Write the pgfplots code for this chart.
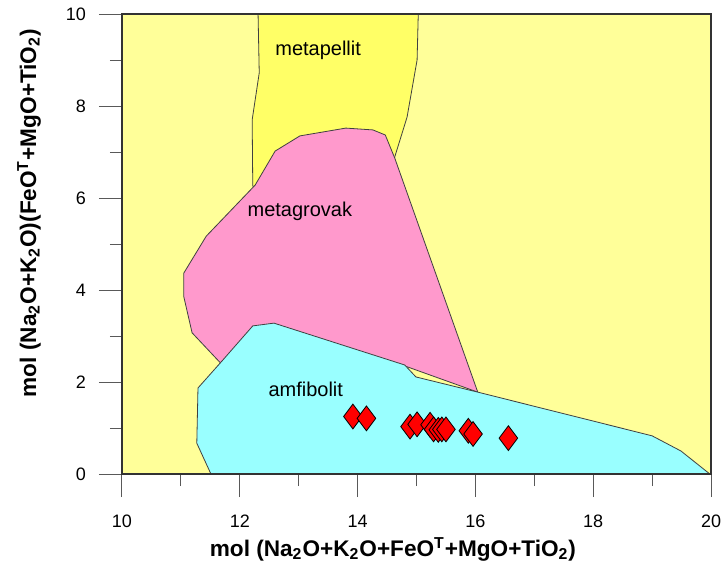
\documentclass[border=0pt]{standalone}
\usepackage{pgfplots}
\pgfplotsset{compat=1.18}
\usepackage{fontspec}
\setmainfont{Liberation Sans}
\definecolor{bgy}{HTML}{FFFF99}
\definecolor{metap}{HTML}{FFFF66}
\definecolor{metag}{HTML}{FF99CC}
\definecolor{amf}{HTML}{99FFFF}
\begin{document}
\begin{tikzpicture}
\begin{axis}[
  at={(0,0)}, anchor=south west,
  scale only axis, width=294.5pt, height=230pt,
  xmin=10, xmax=20, ymin=0, ymax=10,
  xtick={10,12,...,20}, ytick={0,2,...,10},
  minor xtick={11,13,...,19}, minor ytick={1,3,...,9},
  tick align=outside, xtick pos=bottom, ytick pos=left,
  major tick length=11.5pt, minor tick length=6pt,
  tick style={black!65, line width=0.5pt},
  axis background/.style={fill=bgy},
  axis line style={black!80, line width=0.6pt},
  axis on top,
  /pgf/number format/assume math mode=true,
  ticklabel style={font=\fontsize{9}{10}\selectfont},
  xticklabel style={yshift=-5.5pt},
  yticklabel style={xshift=-3pt},
  label style={font=\bfseries\fontsize{11.3}{12}\selectfont},
  xlabel={mol (Na\textsubscript{2}O+K\textsubscript{2}O+FeO\textsuperscript{T}+MgO+TiO\textsubscript{2})},
  ylabel={mol (Na\textsubscript{2}O+K\textsubscript{2}O)(FeO\textsuperscript{T}+MgO+TiO\textsubscript{2})},
  xlabel style={at={(axis description cs:0.46,0)}, anchor=base, yshift=-41pt},
  ylabel style={at={(axis description cs:0,0.567)}, anchor=center, yshift=46.5pt},
]
% metapellit
\addplot[fill=metap, draw=black!75, line width=0.4pt] coordinates {
 (12.31,10) (12.33,8.72) (12.21,7.70) (12.22,6.28) (12.26,6.0)
 (14.63,6.7) (14.63,6.89) (14.84,7.76) (15.01,9.0) (15.03,10)
} -- cycle;
% metagrovak
\addplot[fill=metag, draw=black!75, line width=0.4pt] coordinates {
 (12.26,6.28) (12.60,7.02) (13.02,7.35) (13.80,7.52) (14.26,7.48)
 (14.47,7.37) (14.63,6.87) (16.04,1.78) (14.80,2.35) (11.66,2.43)
 (11.19,3.07) (11.05,3.85) (11.05,4.37) (11.43,5.17)
} -- cycle;
% amfibolit
\addplot[fill=amf, draw=black!75, line width=0.4pt] coordinates {
 (11.29,1.87) (11.70,2.46) (12.22,3.22) (12.58,3.28) (14.80,2.37)
 (14.99,2.11) (16.04,1.78) (19.00,0.83) (19.49,0.50) (19.98,0)
 (11.51,0) (11.27,0.67)
} -- cycle;
% samples
\addplot[only marks, mark=diamond*, mark size=6.2pt,
  mark options={fill=red, draw=black, line width=0.4pt}] coordinates {
 (13.92,1.25) (14.15,1.21) (14.89,1.03) (15.01,1.08) (15.23,1.07)
 (15.29,0.97) (15.37,0.96) (15.43,0.97) (15.50,0.97) (15.88,0.94)
 (15.96,0.87) (16.56,0.78)
};
\node[font=\fontsize{10}{12}\selectfont] at (axis cs:13.33,9.22) {metapellit};
\node[font=\fontsize{10}{12}\selectfont] at (axis cs:13.02,5.70) {metagrovak};
\node[font=\fontsize{10}{12}\selectfont] at (axis cs:13.12,1.83) {amfibolit};
\end{axis}
\pgfresetboundingbox
\path[use as bounding box] (-61pt,-47.5pt) rectangle (302pt,237pt);
\end{tikzpicture}
\end{document}
